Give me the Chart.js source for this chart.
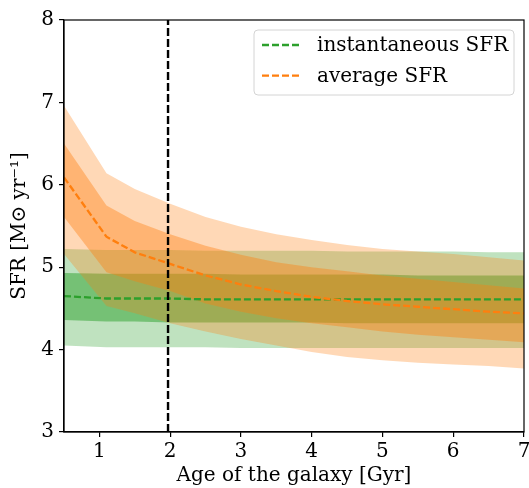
<!DOCTYPE html>
<html>
<head>
<meta charset="utf-8">
<script src="https://cdn.jsdelivr.net/npm/chart.js@4"></script>
<style>body{margin:0;background:#fff}</style>
</head>
<body>
<canvas id="sfrChart" width="529" height="488"></canvas>
<script>
const ages = [0.5, 1.1, 1.5, 2, 2.5, 3, 3.5, 4, 4.5, 5, 5.5, 6, 6.5, 7];

// instantaneous SFR: median and 1/2 sigma bands
const instMed = [4.65, 4.62, 4.62, 4.62, 4.61, 4.61, 4.61, 4.61, 4.61, 4.61, 4.61, 4.61, 4.61, 4.61];
const inst1Hi = [4.93, 4.92, 4.92, 4.92, 4.92, 4.91, 4.91, 4.91, 4.91, 4.91, 4.90, 4.90, 4.90, 4.90];
const inst1Lo = [4.36, 4.34, 4.34, 4.33, 4.33, 4.33, 4.33, 4.33, 4.32, 4.32, 4.32, 4.32, 4.32, 4.32];
const inst2Hi = [5.22, 5.21, 5.21, 5.21, 5.20, 5.20, 5.20, 5.20, 5.19, 5.19, 5.19, 5.19, 5.18, 5.18];
const inst2Lo = [4.05, 4.03, 4.03, 4.03, 4.03, 4.02, 4.02, 4.02, 4.02, 4.02, 4.02, 4.02, 4.02, 4.02];

// average SFR
const avgMed = [6.09, 5.37, 5.18, 5.04, 4.90, 4.79, 4.71, 4.64, 4.59, 4.55, 4.52, 4.49, 4.46, 4.44];
const avg1Hi = [6.50, 5.75, 5.56, 5.40, 5.26, 5.15, 5.06, 5.00, 4.95, 4.90, 4.86, 4.82, 4.78, 4.74];
const avg1Lo = [5.61, 4.94, 4.83, 4.71, 4.56, 4.46, 4.38, 4.32, 4.27, 4.22, 4.18, 4.15, 4.12, 4.09];
const avg2Hi = [6.96, 6.14, 5.95, 5.77, 5.61, 5.49, 5.40, 5.33, 5.27, 5.22, 5.19, 5.16, 5.12, 5.08];
const avg2Lo = [5.16, 4.53, 4.44, 4.32, 4.22, 4.13, 4.05, 3.97, 3.91, 3.87, 3.84, 3.82, 3.80, 3.77];

const markAge = 1.97;
const xTicks = [1, 2, 3, 4, 5, 6, 7];
const yTicks = [3, 4, 5, 6, 7, 8];
const seriesNames = ["instantaneous SFR", "average SFR"];

const FONT = "'DejaVu Serif', serif";
const GREEN = "#2ca02c";
const ORANGE = "#ff7f0e";

const pts = ys => ages.map((a, i) => ({ x: a, y: ys[i] }));
const clear = "rgba(0,0,0,0)";

function band(hi, lo, color, order) {
  return [
    { data: pts(hi), fill: "+1", backgroundColor: color, borderColor: clear, borderWidth: 0, pointRadius: 0, order },
    { data: pts(lo), fill: false, borderColor: clear, borderWidth: 0, pointRadius: 0, order }
  ];
}

// box around plot + matplotlib style legend
const frame = {
  id: "frame",
  afterDatasetsDraw(chart) {
    const { ctx, chartArea: a } = chart;
    ctx.save();
    ctx.strokeStyle = "#000";
    ctx.lineWidth = 1.2;
    ctx.strokeRect(a.left, a.top, a.right - a.left, a.bottom - a.top);
    ctx.restore();
  },
  afterDraw(chart) {
    const { ctx, chartArea: a } = chart;
    const w = 260, h = 65;
    const x0 = a.right - 10 - w, y0 = a.top + 10;
    ctx.save();
    ctx.beginPath();
    ctx.roundRect(x0, y0, w, h, 4);
    ctx.fillStyle = "rgba(255,255,255,0.8)";
    ctx.fill();
    ctx.strokeStyle = "#d4d4d4";
    ctx.lineWidth = 1;
    ctx.stroke();
    [GREEN, ORANGE].forEach((c, i) => {
      const y = y0 + 15 + i * 30.7;
      ctx.beginPath();
      ctx.setLineDash([7, 3]);
      ctx.strokeStyle = c;
      ctx.lineWidth = 2.3;
      ctx.moveTo(x0 + 8, y);
      ctx.lineTo(x0 + 45, y);
      ctx.stroke();
      ctx.setLineDash([]);
      ctx.fillStyle = "#000";
      ctx.font = "20px " + FONT;
      ctx.textBaseline = "middle";
      ctx.fillText(seriesNames[i], x0 + 63, y + 1);
    });
    ctx.restore();
  }
};

const axisStyle = {
  ticks: { font: { family: FONT, size: 20 }, color: "#000" },
  grid: { display: true, drawOnChartArea: false, drawTicks: true, tickLength: 5, color: "#000", lineWidth: 1.2 },
  border: { display: true, color: "#000", width: 1.2 }
};

new Chart(document.getElementById("sfrChart"), {
  type: "line",
  data: {
    datasets: [
      ...band(inst2Hi, inst2Lo, "rgba(44,160,44,0.3)", 10),
      ...band(inst1Hi, inst1Lo, "rgba(44,160,44,0.5)", 9),
      ...band(avg2Hi, avg2Lo, "rgba(255,127,14,0.3)", 8),
      ...band(avg1Hi, avg1Lo, "rgba(255,127,14,0.4)", 7),
      { label: seriesNames[0], data: pts(instMed), borderColor: GREEN, borderWidth: 2.3, borderDash: [7, 3], pointRadius: 0, fill: false, order: 3 },
      { label: seriesNames[1], data: pts(avgMed), borderColor: ORANGE, borderWidth: 2.3, borderDash: [7, 3], pointRadius: 0, fill: false, order: 2 },
      { data: [{ x: markAge, y: 3 }, { x: markAge, y: 8 }], borderColor: "#000", borderWidth: 2.4, borderDash: [8, 3], pointRadius: 0, fill: false, order: 1 }
    ]
  },
  options: {
    responsive: false,
    animation: false,
    layout: { padding: { top: 20, right: 5, left: 0, bottom: 0 } },
    elements: { line: { tension: 0 } },
    plugins: { legend: { display: false }, tooltip: { enabled: false } },
    scales: {
      x: {
        type: "linear", min: 0.5, max: 7,
        ...axisStyle,
        ticks: { ...axisStyle.ticks, padding: 3, maxRotation: 0 },
        title: { display: true, text: "Age of the galaxy [Gyr]", font: { family: FONT, size: 20 }, color: "#000", padding: { top: 0, bottom: 0 } },
        afterBuildTicks: s => { s.ticks = xTicks.map(v => ({ value: v })); },
        afterFit: s => { s.height = 56; s.paddingLeft = 0; s.paddingRight = 0; }
      },
      y: {
        min: 3, max: 8,
        ...axisStyle,
        ticks: { ...axisStyle.ticks, padding: 5 },
        title: { display: true, text: "SFR [M\u2299 yr\u207b\u00b9]", font: { family: FONT, size: 20 }, color: "#000", padding: { top: 8, bottom: 0 } },
        afterBuildTicks: s => { s.ticks = yTicks.map(v => ({ value: v })); },
        afterFit: s => { s.width = 64; s.paddingTop = 0; s.paddingBottom = 0; }
      }
    }
  },
  plugins: [frame]
});
</script>
</body>
</html>
